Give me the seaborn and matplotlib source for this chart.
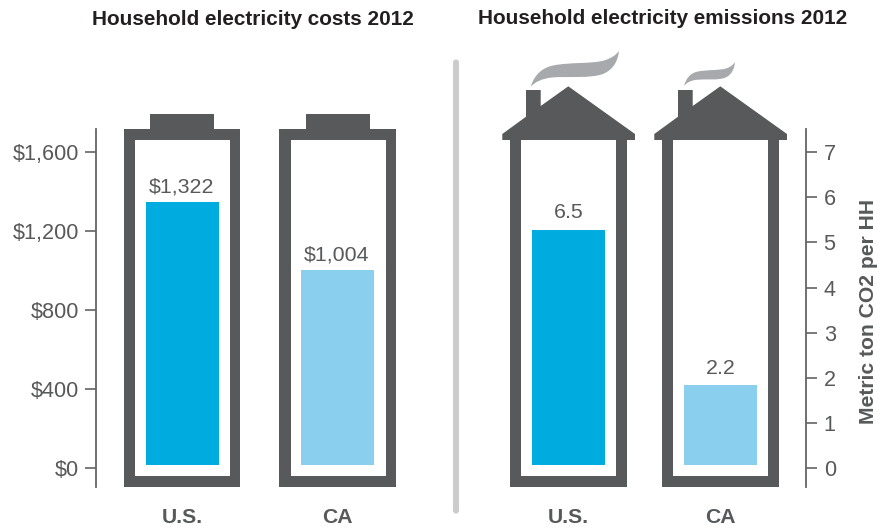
import pandas as pd
import matplotlib
matplotlib.use('Agg')
import matplotlib.pyplot as plt
import seaborn as sns
from matplotlib.patches import Rectangle, Polygon, PathPatch, FancyBboxPatch
from matplotlib.path import Path

# --- data ---
regions = ['U.S.', 'CA']
# drawn bar heights differ from the printed labels in the original, keep both
cost_heights = [1347, 1004]
cost_labels = ['$1,322', '$1,004']
cost_ticks = [0, 400, 800, 1200, 1600]
cost_tick_labels = ['$0', '$400', '$800', '$1,200', '$1,600']
emission_heights = [5.27, 1.84]
emission_labels = ['6.5', '2.2']
emission_ticks = [0, 1, 2, 3, 4, 5, 6, 7]

DARK = '#58595b'
AXIS = '#636466'
SMOKE = '#a7a9ac'
bar_colors = ['#00abe0', '#8bcfee']

W, H = 880, 529

sns.set_theme(style='white')
plt.rcParams['font.family'] = ['Liberation Sans', 'DejaVu Sans']
plt.rcParams['text.color'] = DARK

fig = plt.figure(figsize=(W / 100, H / 100), dpi=100, facecolor='white')


def px_axes(left, right, top, bottom):
    return fig.add_axes([left / W, 1 - bottom / H, (right - left) / W, (bottom - top) / H])


# background layer in pixel coordinates for the battery / house pictograms
bg = fig.add_axes([0, 0, 1, 1], zorder=0)
bg.set_xlim(0, W)
bg.set_ylim(H, 0)
bg.axis('off')


def rect(x0, x1, y0, y1, color):
    bg.add_patch(Rectangle((x0, y0), x1 - x0, y1 - y0, facecolor=color, edgecolor='none'))


def battery(x0, x1, cap0, cap1):
    rect(cap0, cap1, 114, 130, DARK)
    rect(x0, x1, 129.3, 487, DARK)
    rect(x0 + 11.3, x1 - 10.7, 140, 476, 'white')


def smoke(x0, y0, sx, sy):
    # shape traced from the big plume, rescaled for the small one
    verts = [(0, 0), (3.3, -10.7), (10.3, -18.7), (22.3, -21.2),
             (39.3, -24.7), (61.3, -22.7), (73.3, -26.2),
             (80.3, -28.2), (85.3, -31.7), (88.3, -35.7),
             (87.3, -26.7), (83.3, -17.7), (73.3, -13.2),
             (61.3, -7.7), (35.3, -10.7), (21.3, -9.2),
             (11.3, -8.2), (4.3, -4.7), (0, 0), (0, 0)]
    codes = [Path.MOVETO] + [Path.CURVE4] * 18 + [Path.CLOSEPOLY]
    verts = [(x0 + vx * sx, y0 + vy * sy) for vx, vy in verts]
    bg.add_patch(PathPatch(Path(verts, codes), facecolor=SMOKE, edgecolor='none'))


def house(dx):
    rect(510 + dx, 627.3 + dx, 139, 487, DARK)
    rect(521 + dx, 616 + dx, 140, 476, 'white')
    roof = [(502.3, 140), (502.3, 134), (526, 116.7), (526, 90), (540.7, 90), (540.7, 106),
            (568.3, 86.3), (635, 134), (635, 140)]
    bg.add_patch(Polygon([(x + dx, y) for x, y in roof], closed=True, facecolor=DARK, edgecolor='none'))


battery(123.5, 240.3, 150, 214)
battery(279.3, 396.3, 305.7, 370)
house(0)
house(152)
smoke(530.7, 86.7, 1, 1)
smoke(684, 86, 0.578, 0.672)

# divider between the two panels
bg.add_patch(FancyBboxPatch((454.5, 61), 3, 451, boxstyle='round,pad=0,rounding_size=1.5',
                            facecolor='#cccccc', edgecolor='#cccccc', linewidth=2.2))


def bar_panel(ax, heights, labels, spacing, center0, left_px, right_px, base, ylim, lab_dx, lab_dy):
    df = pd.DataFrame({'region': regions, 'value': heights})
    sns.barplot(data=df, x='region', y='value', hue='region', palette=bar_colors,
                legend=False, width=73 / spacing, saturation=1, linewidth=0, ax=ax)
    ax.set_xlim((left_px - center0) / spacing, (right_px - center0) / spacing)
    ax.set_ylim(*ylim)
    # bars stop a little above the zero tick in the original
    for cont, lab in zip(ax.containers, labels):
        for p in cont:
            top = p.get_height()
            p.set_y(base)
            p.set_height(top - base)
        ax.annotate(lab, (cont[0].get_x() + cont[0].get_width() / 2, top),
                    xytext=(lab_dx, lab_dy), textcoords='offset points',
                    ha='center', va='bottom', fontsize=15.4, color=DARK)
    ax.patch.set_alpha(0)
    ax.set_xlabel('')
    ax.set_ylabel('')
    ax.tick_params(axis='x', length=0, pad=15, labelsize=15.2, labelcolor=DARK)
    for t in ax.get_xticklabels():
        t.set_fontweight('bold')
    ax.tick_params(axis='y', length=8.2, width=1.2, color=AXIS, labelsize=15.6, labelcolor=DARK, pad=3.5)
    ax.spines['top'].set_visible(False)
    ax.spines['bottom'].set_visible(False)


# --- left panel: costs ---
ax1 = px_axes(95.5, 440, 129, 487)
ax1.set_zorder(1)
bar_panel(ax1, cost_heights, cost_labels, 155, 182.5, 95.5, 440, 16, (-94.6, 1716), -0.5, 3.6)
ax1.set_yticks(cost_ticks)
ax1.set_yticklabels(cost_tick_labels)
ax1.tick_params(axis='y', left=True, right=False)
ax1.spines['right'].set_visible(False)
ax1.spines['left'].set_color(AXIS)
ax1.spines['left'].set_linewidth(1.3)

# --- right panel: emissions ---
ax2 = px_axes(480, 806, 129, 487)
ax2.set_zorder(1)
bar_panel(ax2, emission_heights, emission_labels, 152, 568.5, 480, 806, 0.07, (-0.414, 7.508), 0, 5.5)
ax2.set_yticks(emission_ticks)
ax2.yaxis.tick_right()
ax2.tick_params(axis='y', left=False, right=True, pad=4.5)
ax2.spines['left'].set_visible(False)
ax2.spines['right'].set_color(AXIS)
ax2.spines['right'].set_linewidth(1.3)

fig.text(868 / W, 1 - 311 / H, 'Metric ton CO2 per HH', rotation=90, ha='center', va='center',
         fontsize=15.2, fontweight='bold', color=DARK)

# titles
fig.text(253 / W, 1 - 19.5 / H, 'Household electricity costs 2012', ha='center', va='center',
         fontsize=14.95, fontweight='bold', color='#231f20')
fig.text(662.5 / W, 1 - 18.5 / H, 'Household electricity emissions 2012', ha='center', va='center',
         fontsize=14.95, fontweight='bold', color='#231f20')

fig.savefig('out.png', dpi=100, facecolor='white')
